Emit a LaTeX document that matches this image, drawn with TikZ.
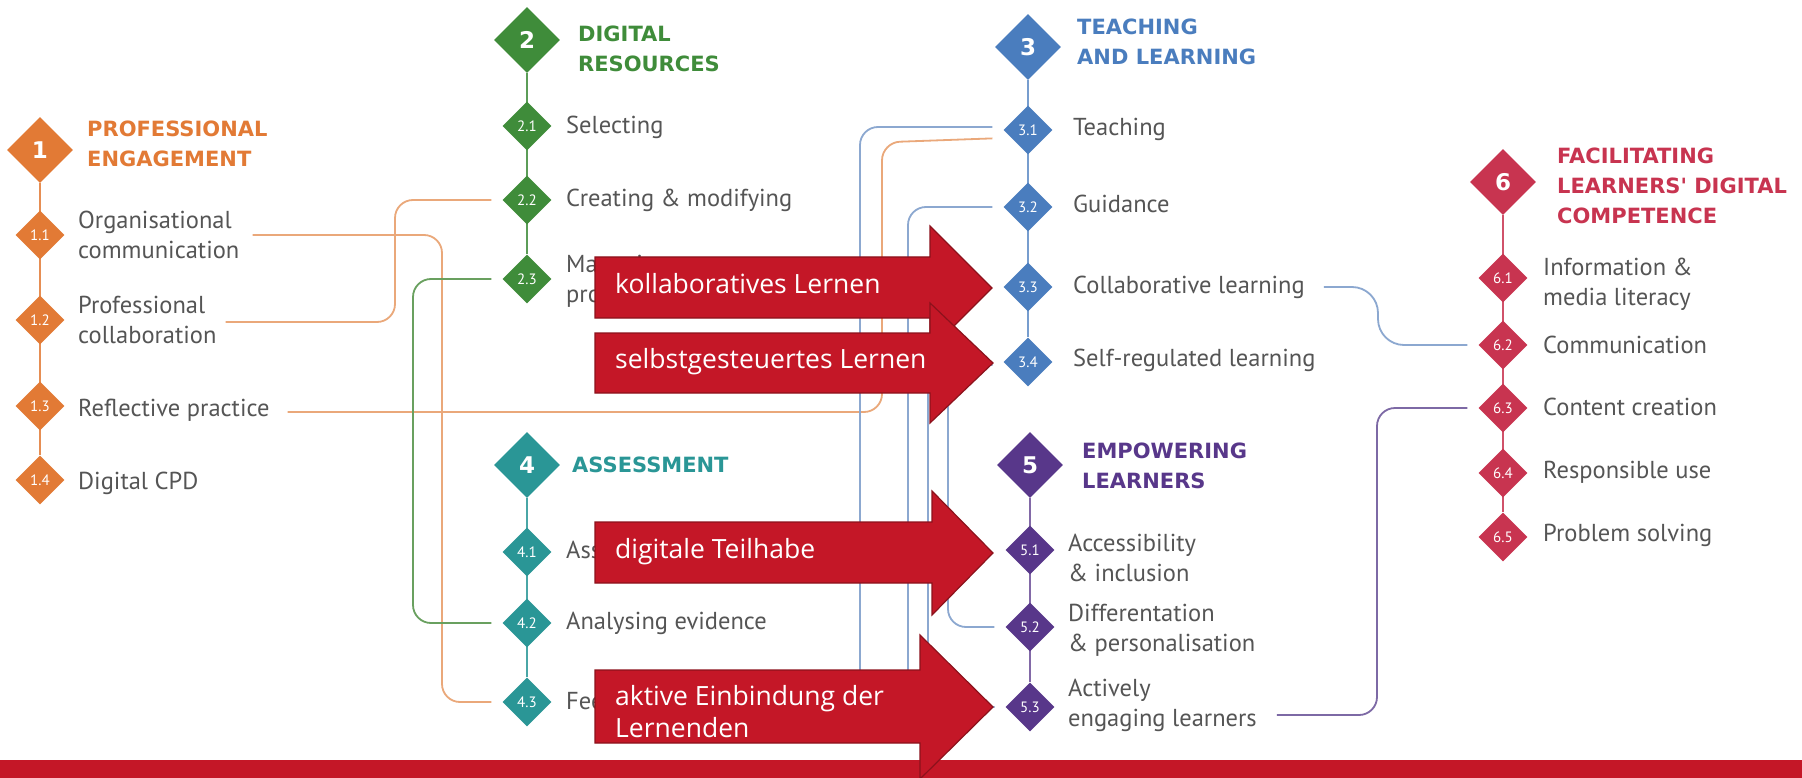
\documentclass[tikz,border=0pt]{standalone}
\usepackage{fontspec}
\setmainfont{PT Sans}
\newfontfamily\titlefont{DejaVu Sans}
\newfontfamily\arrowfont{Open Sans}
\usetikzlibrary{shapes.geometric,backgrounds}
\definecolor{orangeD}{RGB}{226,122,53}
\definecolor{orangeL}{RGB}{234,168,122}
\definecolor{greenD}{RGB}{63,140,58}
\definecolor{greenL}{RGB}{105,160,95}
\definecolor{blueD}{RGB}{74,125,190}
\definecolor{blueL}{RGB}{140,168,208}
\definecolor{tealD}{RGB}{42,150,150}
\definecolor{purpleD}{RGB}{88,55,138}
\definecolor{purpleL}{RGB}{125,105,165}
\definecolor{crimD}{RGB}{200,52,80}
\definecolor{labelgray}{RGB}{85,85,85}
\definecolor{arrowred}{RGB}{196,23,39}
\definecolor{arrowedge}{RGB}{140,18,28}
\tikzset{
  bigd/.style={diamond, aspect=1, inner sep=0pt, minimum width=66pt, minimum height=66pt, fill=#1, text=white, font=\titlefont\bfseries\fontsize{23}{23}\selectfont},
  smalld/.style={diamond, aspect=1, inner sep=0pt, minimum width=49pt, minimum height=49pt, fill=#1, text=white, font=\fontsize{15}{15}\selectfont},
  ttl/.style={anchor=west, align=left, inner sep=0pt, text=#1, font=\titlefont\bfseries\fontsize{21}{30}\selectfont},
  lbl/.style={anchor=west, align=left, inner sep=0pt, text=labelgray, font=\fontsize{24.5}{30}\selectfont},
  conn/.style={draw=#1, line width=1.8pt, rounded corners=18pt, shorten >=11pt},
  spine/.style={draw=#1, line width=2.2pt},
  redarrow/.style={fill=arrowred, draw=arrowedge, line width=1.2pt, line join=miter},
  arrowtext/.style={anchor=base west, align=left, inner sep=0pt, text=white, font=\arrowfont\fontsize{26.5}{32}\selectfont},
}
\begin{document}
\begin{tikzpicture}[x=1pt,y=-1pt]
\useasboundingbox (0,0) rectangle (1802,778);
% ---------- column 1 ----------
\node[bigd=orangeD] (D1) at (40,150) {1};
\node[ttl=orangeD] (T1) at (87,144) {PROFESSIONAL\\ENGAGEMENT};
\node[smalld=orangeD] (d11) at (40,235) {1.1};
\node[smalld=orangeD] (d12) at (40,320) {1.2};
\node[smalld=orangeD] (d13) at (40,406) {1.3};
\node[smalld=orangeD] (d14) at (40,480) {1.4};
\node[lbl] (l11) at (78,235) {Organisational\\communication};
\node[lbl] (l12) at (78,320) {Professional\\collaboration};
\node[lbl] (l13) at (78,410) {Reflective practice};
\node[lbl] (l14) at (78,483) {Digital CPD};
% ---------- column 2 ----------
\node[bigd=greenD] (D2) at (527,40) {2};
\node[ttl=greenD] (T2) at (578,49) {DIGITAL\\RESOURCES};
\node[smalld=greenD] (d21) at (527,126) {2.1};
\node[smalld=greenD] (d22) at (527,200) {2.2};
\node[smalld=greenD] (d23) at (527,279) {2.3};
\node[lbl] (l21) at (566,127) {Selecting};
\node[lbl] (l22) at (566,200) {Creating \& modifying};
\node[lbl] (l23) at (566,281) {Managing,\\protecting, sharing};
% ---------- column 4 ----------
\node[bigd=tealD] (D4) at (527,465) {4};
\node[ttl=tealD] (T4) at (572,465) {ASSESSMENT};
\node[smalld=tealD] (d41) at (527,552) {4.1};
\node[smalld=tealD] (d42) at (527,623) {4.2};
\node[smalld=tealD] (d43) at (527,702) {4.3};
\node[lbl] (l41) at (566,552) {Assessment strategies};
\node[lbl] (l42) at (566,623) {Analysing evidence};
\node[lbl] (l43) at (566,703) {Feedback \& planning};
% ---------- column 3 ----------
\node[bigd=blueD] (D3) at (1028,47) {3};
\node[ttl=blueD] (T3) at (1077,42) {TEACHING\\AND LEARNING};
\node[smalld=blueD] (d31) at (1028,130) {3.1};
\node[smalld=blueD] (d32) at (1028,207) {3.2};
\node[smalld=blueD] (d33) at (1028,287) {3.3};
\node[smalld=blueD] (d34) at (1028,362) {3.4};
\node[lbl] (l31) at (1073,129) {Teaching};
\node[lbl] (l32) at (1073,204) {Guidance};
\node[lbl] (l33) at (1073,287) {Collaborative learning};
\node[lbl] (l34) at (1073,360) {Self-regulated learning};
% ---------- column 5 ----------
\node[bigd=purpleD] (D5) at (1030,465) {5};
\node[ttl=purpleD] (T5) at (1082,466) {EMPOWERING\\LEARNERS};
\node[smalld=purpleD] (d51) at (1030,550) {5.1};
\node[smalld=purpleD] (d52) at (1030,627) {5.2};
\node[smalld=purpleD] (d53) at (1030,707) {5.3};
\node[lbl] (l51) at (1068,558) {Accessibility\\\& inclusion};
\node[lbl] (l52) at (1068,630) {Differentation\\\& personalisation};
\node[lbl] (l53) at (1068,705) {Actively\\engaging learners};
% ---------- column 6 ----------
\node[bigd=crimD] (D6) at (1503,182) {6};
\node[ttl=crimD] (T6) at (1557,186) {FACILITATING\\LEARNERS' DIGITAL\\COMPETENCE};
\node[smalld=crimD] (d61) at (1503,278) {6.1};
\node[smalld=crimD] (d62) at (1503,345) {6.2};
\node[smalld=crimD] (d63) at (1503,408) {6.3};
\node[smalld=crimD] (d64) at (1503,473) {6.4};
\node[smalld=crimD] (d65) at (1503,537) {6.5};
\node[lbl] (l61) at (1543,284) {Information \&\\media literacy};
\node[lbl] (l62) at (1543,345) {Communication};
\node[lbl] (l63) at (1543,407) {Content creation};
\node[lbl] (l64) at (1543,472) {Responsible use};
\node[lbl] (l65) at (1543,535) {Problem solving};
% ---------- routing coordinates ----------
\coordinate (v11) at (442,0);
\coordinate (v12) at (395,0);
\coordinate (v13) at (882,0);
\coordinate (v23) at (413,0);
\coordinate (v31) at (860,0);
\coordinate (v32) at (908,0);
\coordinate (v34a) at (928,0);
\coordinate (v34b) at (948,0);
\coordinate (v62) at (1378,0);
\coordinate (v63) at (1377,0);
\begin{scope}[on background layer]
\fill[white] (0,0) rectangle (1802,778);
% spines
\draw[spine=orangeD!85!white] (D1) -- (d14);
\draw[spine=greenD!85!white] (D2) -- (d23);
\draw[spine=tealD!85!white] (D4) -- (d43);
\draw[spine=blueD!75!white] (D3) -- (d34);
\draw[spine=purpleD!75!white] (D5) -- (d53);
\draw[spine=crimD!85!white] (D6) -- (d65);
% connectors
\draw[conn=orangeL] ([xshift=13pt]l11.east) -| (v11 |- d43.west) -- (d43.west);
\draw[conn=orangeL] ([xshift=9pt,yshift=-2pt]l12.east) -| (v12 |- d22.west) -- (d22.west);
\draw[conn=orangeL] ([xshift=18pt,yshift=-2pt]l13.east) -| (v13 |- d31.south west) -- ([yshift=-8pt]d31.west);
\draw[conn=greenL, shorten <=11pt] (d23.west) -| (v23 |- d42.west) -- (d42.west);
\draw[conn=blueL, shorten <=11pt] ([yshift=3pt]d31.west) -| (v31 |- d53.west) -- (d53.west);
\draw[conn=blueL, shorten <=11pt] (d32.west) -| (v32 |- d53.west) -- (d53.west);
\draw[conn=blueL, shorten <=11pt] ([yshift=-3pt]d34.west) -| (v34a |- d53.west) -- (d53.west);
\draw[conn=blueL, shorten <=11pt] ([yshift=-3pt]d34.west) -| (v34b |- d52.west) -- (d52.west);
\draw[conn=blueL, rounded corners=26pt] ([xshift=19pt]l33.east) -| (v62 |- d62.west) -- (d62.west);
\draw[conn=purpleL] ([xshift=20pt,yshift=-10pt]l53.east) -| (v63 |- d63.west) -- (d63.west);
\end{scope}
% ---------- bottom bar ----------
\fill[arrowred] (0,760) rectangle (1802,778);
% ---------- red arrows ----------
\path[redarrow] (595,257) -- (930,257) -- (930,226) -- (992,288) -- (930,350) -- (930,318) -- (595,318) -- cycle;
\node[arrowtext] (a1) at (615,293) {kollaboratives Lernen};
\path[redarrow] (595,333) -- (930,333) -- (930,303) -- (993,363) -- (930,423) -- (930,393) -- (595,393) -- cycle;
\node[arrowtext] (a2) at (615,368) {selbstgesteuertes Lernen};
\path[redarrow] (595,522) -- (932,522) -- (932,491) -- (993,553) -- (932,615) -- (932,583) -- (595,583) -- cycle;
\node[arrowtext] (a3) at (615,558) {digitale Teilhabe};
\path[redarrow] (595,670) -- (920,670) -- (920,635) -- (993,707) -- (920,779) -- (920,743) -- (595,743) -- cycle;
\node[arrowtext] (a4) at (615,737) {aktive Einbindung der\\Lernenden};
\end{tikzpicture}
\end{document}
